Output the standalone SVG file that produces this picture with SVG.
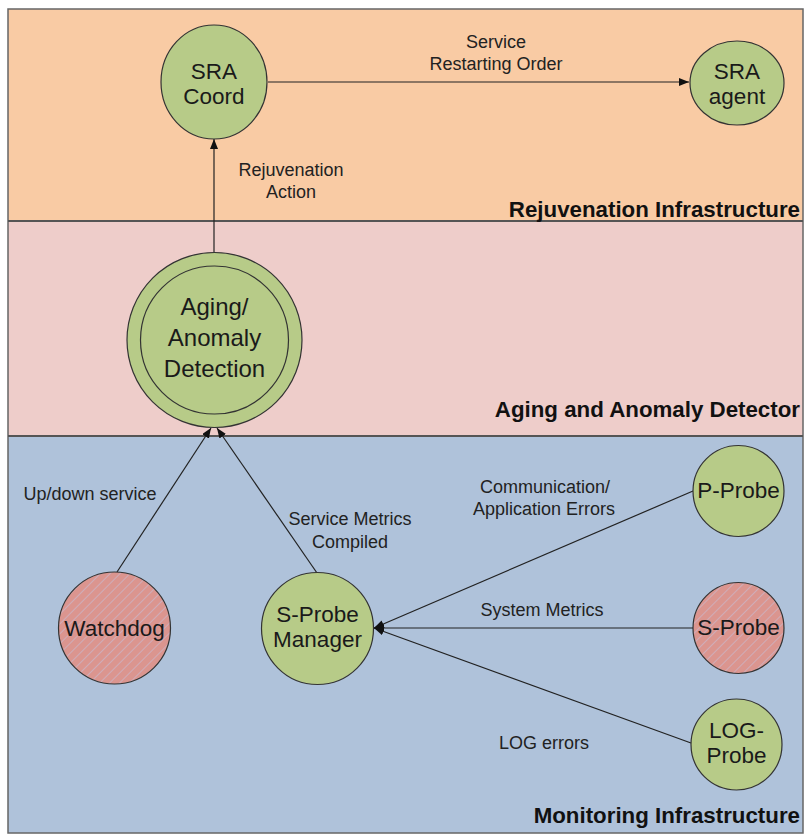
<svg xmlns="http://www.w3.org/2000/svg" width="806" height="835" viewBox="0 0 806 835">
<style>
.band{stroke:none}
.div{stroke:#555;stroke-width:2;fill:none}
.node{fill:#B7CB88;stroke:#333;stroke-width:1.2}
.hatch{fill:url(#hatch);stroke:#333;stroke-width:1.2}
.conn{stroke:#222;stroke-width:1.2;fill:none;marker-end:url(#arrow)}
.nt{font-family:"Liberation Sans",Arial,sans-serif;font-size:22.5px;fill:#1a1a1a;text-anchor:middle}
.big{font-size:24px}
.lbl{font-family:"Liberation Sans",Arial,sans-serif;font-size:18px;fill:#222;text-anchor:middle}
.ttl{font-family:"Liberation Sans",Arial,sans-serif;font-size:22.3px;font-weight:bold;fill:#111;text-anchor:end}
</style>
<defs>
<pattern id="hatch" patternUnits="userSpaceOnUse" width="7" height="7" patternTransform="rotate(45)">
<rect width="7" height="7" fill="#DB958F"/>
<line x1="0" y1="0" x2="0" y2="7" stroke="#CCB3C4" stroke-width="1.6"/>
</pattern>
<marker id="arrow" markerUnits="userSpaceOnUse" markerWidth="10" markerHeight="8" refX="10" refY="4" orient="auto">
<path d="M0,0 L10,4 L0,8 z" fill="#111"/>
</marker>
</defs>
<g id="bands">
<rect class="band" x="8" y="9" width="795" height="212" fill="#F9CBA4"/>
<rect class="band" x="8" y="221" width="795" height="215" fill="#EECDCA"/>
<rect class="band" x="8" y="436" width="795" height="397" fill="#AFC2DA"/>
<rect x="8" y="9" width="795" height="824" fill="none" stroke="#666" stroke-width="1.5"/>
<line class="div" x1="8" y1="221" x2="803" y2="221"/>
<line class="div" x1="8" y1="436" x2="803" y2="436"/>
<text class="ttl" x="800" y="217">Rejuvenation Infrastructure</text>
<text class="ttl" x="800" y="417">Aging and Anomaly Detector</text>
<text class="ttl" x="800" y="823">Monitoring Infrastructure</text>
</g>
<g id="connectors">
<line class="conn" x1="268" y1="82" x2="689" y2="82"/>
<line class="conn" x1="214" y1="252" x2="214" y2="139"/>
<line class="conn" x1="117" y1="572" x2="211" y2="428"/>
<line class="conn" x1="317" y1="573" x2="217" y2="428"/>
<line class="conn" x1="693" y1="491" x2="374" y2="628"/>
<line class="conn" x1="693" y1="628" x2="374" y2="628"/>
<line class="conn" x1="691" y1="743" x2="374" y2="628"/>
<text class="lbl" x="496" y="48">Service</text>
<text class="lbl" x="496" y="70">Restarting Order</text>
<text class="lbl" x="291" y="176">Rejuvenation</text>
<text class="lbl" x="291" y="198">Action</text>
<text class="lbl" x="90" y="500">Up/down service</text>
<text class="lbl" x="350" y="525">Service Metrics</text>
<text class="lbl" x="350" y="548">Compiled</text>
<text class="lbl" x="545" y="493">Communication/</text>
<text class="lbl" x="544" y="515">Application Errors</text>
<text class="lbl" x="542" y="616">System Metrics</text>
<text class="lbl" x="544" y="749">LOG errors</text>
</g>
<g id="sra-coord">
<ellipse class="node" cx="214" cy="82" rx="53" ry="57"/>
<text class="nt" x="214" y="79">SRA</text>
<text class="nt" x="214" y="104">Coord</text>
</g>
<g id="sra-agent">
<ellipse class="node" cx="737" cy="83" rx="47" ry="42"/>
<text class="nt" x="737" y="79">SRA</text>
<text class="nt" x="737" y="104">agent</text>
</g>
<g id="aging">
<circle class="node" cx="214.5" cy="340" r="87.5"/>
<circle cx="214.5" cy="340" r="74" fill="none" stroke="#333" stroke-width="1.2"/>
<text class="nt big" x="214.5" y="315">Aging/</text>
<text class="nt big" x="214.5" y="346">Anomaly</text>
<text class="nt big" x="214.5" y="377">Detection</text>
</g>
<g id="watchdog">
<circle class="hatch" cx="114.5" cy="628" r="56"/>
<text class="nt" x="114.5" y="636">Watchdog</text>
</g>
<g id="s-probe-manager">
<circle class="node" cx="317.5" cy="628.5" r="56"/>
<text class="nt" x="317.5" y="622">S-Probe</text>
<text class="nt" x="317.5" y="647">Manager</text>
</g>
<g id="p-probe">
<circle class="node" cx="738.5" cy="491" r="45.5"/>
<text class="nt" x="738.5" y="498">P-Probe</text>
</g>
<g id="s-probe">
<circle class="hatch" cx="738.5" cy="628" r="45.5"/>
<text class="nt" x="738.5" y="635">S-Probe</text>
</g>
<g id="log-probe">
<circle class="node" cx="736.5" cy="744.5" r="45.5"/>
<text class="nt" x="736.5" y="738">LOG-</text>
<text class="nt" x="736.5" y="763">Probe</text>
</g>
</svg>
